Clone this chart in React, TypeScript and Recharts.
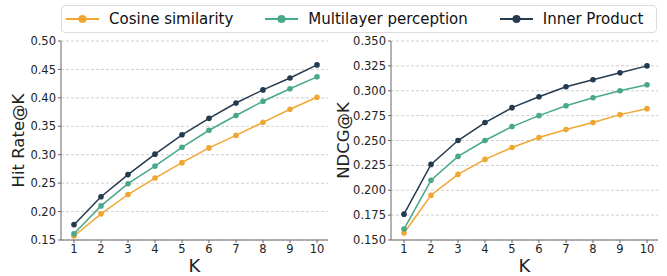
import React from 'react';
import { LineChart, Line, XAxis, YAxis, CartesianGrid } from 'recharts';

const K_VALUES = [1, 2, 3, 4, 5, 6, 7, 8, 9, 10];

const hitCosine = [0.157, 0.196, 0.23, 0.259, 0.286, 0.312, 0.334, 0.357, 0.38, 0.401];
const hitMlp = [0.161, 0.21, 0.249, 0.28, 0.313, 0.343, 0.369, 0.394, 0.416, 0.437];
const hitInner = [0.177, 0.226, 0.265, 0.301, 0.335, 0.364, 0.391, 0.414, 0.435, 0.458];

const ndcgCosine = [0.157, 0.195, 0.216, 0.231, 0.243, 0.253, 0.261, 0.268, 0.276, 0.282];
const ndcgMlp = [0.161, 0.21, 0.234, 0.25, 0.264, 0.275, 0.285, 0.293, 0.3, 0.306];
const ndcgInner = [0.176, 0.226, 0.25, 0.268, 0.283, 0.294, 0.304, 0.311, 0.318, 0.325];

const hitTicks = [0.15, 0.2, 0.25, 0.3, 0.35, 0.4, 0.45, 0.5];
const ndcgTicks = [0.15, 0.175, 0.2, 0.225, 0.25, 0.275, 0.3, 0.325, 0.35];

const SERIES = [
  { key: 'cosine', name: 'Cosine similarity', color: '#F0A732' },
  { key: 'mlp', name: 'Multilayer perception', color: '#48A88A' },
  { key: 'inner', name: 'Inner Product', color: '#243A4E' },
];

const FONT = '"DejaVu Sans", sans-serif';
const FRAME = '#666666';
const TEXT = '#222222';

const buildRows = (cos: number[], mlp: number[], inner: number[]) =>
  K_VALUES.map((k, i) => ({ k, cosine: cos[i], mlp: mlp[i], inner: inner[i] }));

interface PanelProps {
  data: any[];
  ticks: number[];
  digits: number;
  label: string;
  labelOffset: number;
  left: number;
}

const Panel: React.FC<PanelProps> = ({ data, ticks, digits, label, labelOffset, left }) => (
  <div style={{ position: 'absolute', left, top: 0 }}>
    <LineChart width={335} height={276} data={data} margin={{ top: 41, right: 7, bottom: 0, left: 0 }}>
      <CartesianGrid horizontal vertical={false} stroke="#cfcfcf" strokeDasharray="3 2" />
      <XAxis
        dataKey="k"
        type="number"
        domain={[1, 10]}
        ticks={K_VALUES}
        padding={{ left: 13, right: 11 }}
        height={36}
        tickSize={3}
        stroke={FRAME}
        tick={{ fill: TEXT, fontSize: 11.5, fontFamily: FONT }}
        label={{ value: 'K', position: 'insideBottom', offset: 4, fill: TEXT, fontSize: 18, fontFamily: FONT }}
      />
      <XAxis xAxisId="top" dataKey="k" type="number" domain={[1, 10]} orientation="top" height={0} tick={false} tickLine={false} stroke={FRAME} />
      <YAxis
        type="number"
        domain={[ticks[0], ticks[ticks.length - 1]]}
        ticks={ticks}
        width={61}
        tickSize={3}
        tickMargin={2}
        stroke={FRAME}
        interval={0}
        tickFormatter={(v: number) => v.toFixed(digits)}
        tick={{ fill: TEXT, fontSize: 11.5, fontFamily: FONT }}
        label={{ value: label, angle: -90, position: 'insideLeft', offset: labelOffset, style: { textAnchor: 'middle' }, fill: TEXT, fontSize: 16.5, fontFamily: FONT }}
      />
      <YAxis yAxisId="right" orientation="right" width={0} tick={false} tickLine={false} stroke={FRAME} />
      {SERIES.map(s => (
        <Line
          key={s.key}
          dataKey={s.key}
          stroke={s.color}
          strokeWidth={1.5}
          dot={{ r: 2.8, fill: s.color, stroke: s.color, strokeWidth: 0 }}
          isAnimationActive={false}
        />
      ))}
    </LineChart>
  </div>
);

const Legend = () => (
  <div
    style={{
      position: 'absolute', left: 61, top: 5, width: 596, height: 28,
      border: '1px solid #dcdcdc', borderRadius: 4, background: '#fff',
      display: 'flex', alignItems: 'center', fontFamily: FONT, fontSize: 15, color: '#111', boxSizing: 'border-box',
    }}
  >
    {SERIES.map((s, i) => (
      <div key={s.key} style={{ display: 'flex', alignItems: 'center', marginLeft: i === 0 ? 4 : 32 }}>
        <svg width={33} height={12}>
          <line x1={0} y1={6} x2={33} y2={6} stroke={s.color} strokeWidth={2} />
          <circle cx={16.5} cy={6} r={4} fill={s.color} />
        </svg>
        <span style={{ marginLeft: 10, whiteSpace: 'nowrap' }}>{s.name}</span>
      </div>
    ))}
  </div>
);

export default function App() {
  return (
    <div style={{ position: 'absolute', left: 0, top: 0, width: 667, height: 276, background: '#fff' }}>
      <Panel data={buildRows(hitCosine, hitMlp, hitInner)} ticks={hitTicks} digits={2} label="Hit Rate@K" labelOffset={18} left={0} />
      <Panel data={buildRows(ndcgCosine, ndcgMlp, ndcgInner)} ticks={ndcgTicks} digits={3} label="NDCG@K" labelOffset={13} left={330} />
      <Legend />
    </div>
  );
}
